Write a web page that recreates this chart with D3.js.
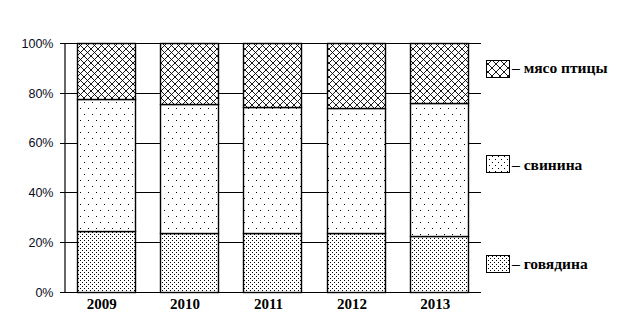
<!DOCTYPE html>
<html><head><meta charset="utf-8">
<script src="https://cdn.jsdelivr.net/npm/d3@7/dist/d3.min.js"></script>
<style>body{margin:0;background:#fff}svg{display:block}</style>
</head><body>
<svg id="c" width="632" height="323"></svg>
<script>
const years = ["2009","2010","2011","2012","2013"];
const beef = [24.5, 23.6, 23.5, 23.5, 22.5];
const pork = [52.9, 52.0, 50.9, 50.5, 53.3];
const poultry = [22.6, 24.4, 25.6, 26.0, 24.2];
const seriesNames = ["говядина", "свинина", "мясо птицы"];
const yTicks = [0, 20, 40, 60, 80, 100];

const svg = d3.select("#c");
const defs = svg.append("defs");

function crossPat(id, s){
  const p = defs.append("pattern").attr("id", id).attr("patternUnits","userSpaceOnUse")
    .attr("width", s).attr("height", s);
  p.append("rect").attr("width", s).attr("height", s).attr("fill","#fff");
  p.append("path").attr("d", `M0,0L${s},${s}M${s},0L0,${s}M-1,${s-1}L1,${s+1}M${s-1},-1L${s+1},1M-1,1L1,-1M${s-1},${s+1}L${s+1},${s-1}`)
    .attr("stroke","#000").attr("stroke-width",0.9).attr("fill","none");
}
function dotPat(id, w, h){
  const p = defs.append("pattern").attr("id", id).attr("patternUnits","userSpaceOnUse")
    .attr("width", w).attr("height", h);
  p.append("rect").attr("width", w).attr("height", h).attr("fill","#fff");
  p.append("rect").attr("x",0).attr("y",0).attr("width",1).attr("height",1).attr("fill","#000");
  p.append("rect").attr("x",w/2).attr("y",h/2).attr("width",1).attr("height",1).attr("fill","#000");
}
crossPat("pCross", 7);
crossPat("pCrossL", 8);
dotPat("pPork", 8, 12);
dotPat("pBeef", 4, 4);
dotPat("pPorkL", 6, 6);
dotPat("pBeefL", 4, 4);

const x = d3.scaleBand().domain(years).range([64, 481]).paddingInner(0.3).paddingOuter(0.15);
const y = d3.scaleLinear().domain([0, 100]).range([292, 43]);

// gridlines
svg.append("g").selectAll("line").data(yTicks).join("line")
  .attr("x1", 60).attr("x2", 481)
  .attr("y1", d => Math.round(y(d)) + 0.5).attr("y2", d => Math.round(y(d)) + 0.5)
  .attr("stroke", "#000").attr("stroke-width", 1);

// left axis
const ya = svg.append("g").attr("transform", "translate(64.5,0)")
  .call(d3.axisLeft(y).tickValues(yTicks).tickFormat(d => d + "%").tickSize(4).tickSizeOuter(0).tickPadding(7));
ya.select(".domain").attr("stroke", "#000").attr("stroke-width", 1.2);
ya.selectAll(".tick line").remove();
ya.selectAll("text").attr("font-family", "'Liberation Sans', Arial, sans-serif").attr("font-size", "12.5px")
  .attr("fill", "#0b0b22").attr("dy", "0.35em");

// stacked bars
const rows = years.map((yr, i) => ({year: yr, beef: beef[i], pork: pork[i], poultry: poultry[i]}));
const stack = d3.stack().keys(["beef", "pork", "poultry"])(rows);
const fills = {beef: "url(#pBeef)", pork: "url(#pPork)", poultry: "url(#pCross)"};
svg.append("g").selectAll("g").data(stack).join("g")
  .attr("fill", d => fills[d.key])
  .selectAll("rect").data(d => d).join("rect")
  .attr("x", d => Math.round(x(d.data.year)) + 0.5)
  .attr("width", Math.round(x.bandwidth()))
  .attr("y", d => Math.round(y(d[1])) + 0.5)
  .attr("height", d => Math.round(y(d[0])) - Math.round(y(d[1])))
  .attr("stroke", "#000").attr("stroke-width", 1.4);

// bottom axis
const xa = svg.append("g").attr("transform", "translate(0,292.5)")
  .call(d3.axisBottom(x).tickSize(0).tickSizeOuter(0).tickPadding(0));
xa.select(".domain").attr("d", "M60,0H481").attr("stroke", "#000");
xa.selectAll("text").attr("dy", null).attr("y", 16.5).attr("dx", -4)
  .attr("font-family", "'Liberation Serif', 'Times New Roman', serif").attr("font-weight", "bold")
  .attr("font-size", "15px").attr("fill", "#000");

// legend
const legend = [
  {name: seriesNames[2], fill: "url(#pCrossL)", by: 60, ty: 73},
  {name: seriesNames[1], fill: "url(#pPorkL)", by: 155, ty: 169.5},
  {name: seriesNames[0], fill: "url(#pBeefL)", by: 255, ty: 269}
];
const lg = svg.append("g").selectAll("g").data(legend).join("g");
lg.append("rect").attr("x", 486.5).attr("y", d => d.by + 0.5).attr("width", 23).attr("height", 17)
  .attr("fill", d => d.fill).attr("stroke", "#000").attr("stroke-width", 1);
lg.append("text").attr("x", 512).attr("y", d => d.ty)
  .attr("font-family", "'Liberation Serif', 'Times New Roman', serif").attr("font-weight", "bold")
  .attr("font-size", "15.5px").attr("fill", "#000")
  .text(d => "– " + d.name);
</script>
</body></html>
